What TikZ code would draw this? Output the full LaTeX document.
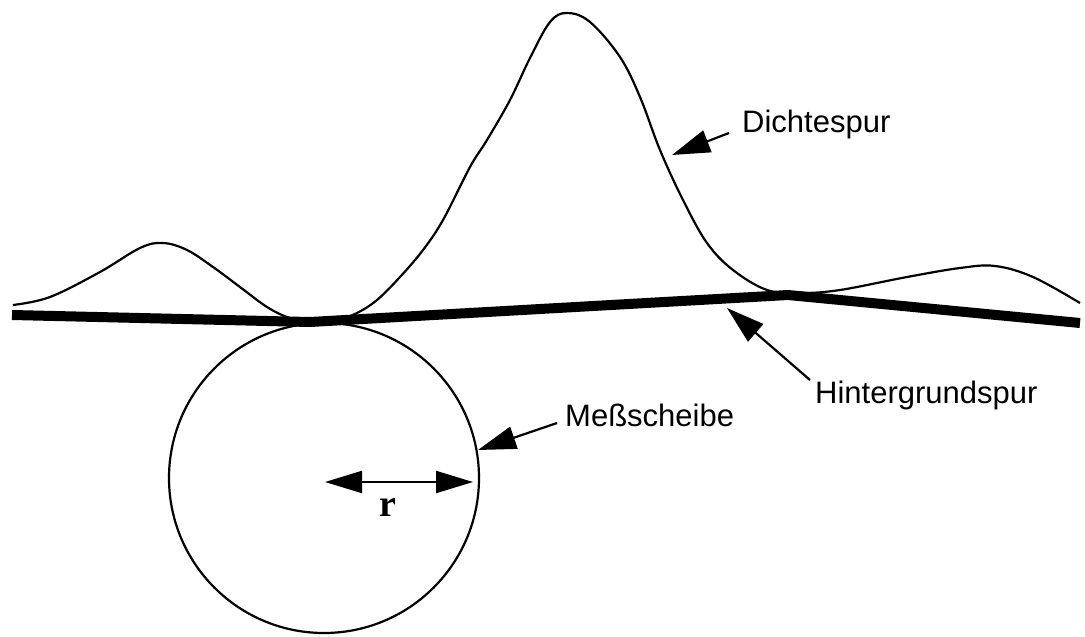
\documentclass[tikz,border=0pt]{standalone}
\usepackage{fontspec}
\setmainfont{Liberation Sans}
\newfontfamily\serifr{Liberation Serif}
\usetikzlibrary{arrows.meta}
\begin{document}
\begin{tikzpicture}[x=1pt,y=-1pt,
  thin line/.style={line width=2.2pt},
  arr/.style={line width=2.2pt,-{Triangle[length=38pt,width=23pt]}},
  dbl/.style={line width=2.2pt,{Triangle[length=37pt,width=22pt]}-{Triangle[length=37pt,width=22pt]}},
  lbl/.style={font=\fontsize{31}{37}\selectfont,inner sep=0pt,anchor=west}]
\useasboundingbox (0,0) rectangle (1085,637);
% density trace
\draw[thin line] plot[smooth,tension=0.6] coordinates {
 (13,305) (50,297) (100,272) (140,248) (163,243) (187,250) (213,267) (240,287)
 (267,307) (290,318) (315,322) (340,319) (357,313) (377,300) (400,277) (423,250)
 (443,220) (470,167) (487,140) (510,100) (530,58) (550,22) (567,13)
 (590,22) (620,57) (640,97) (660,150) (683,200) (707,243) (733,270)
 (767,290) (800,293) (840,290) (907,277) (960,268) (995,266) (1033,277) (1080,303)};
% background trace
\draw[line width=10pt] (12,315) -- (310,322) -- (788,295) -- (1080,323);
% measuring disc
\node[draw,thin line,circle,minimum size=310pt,inner sep=0pt] (disc) at (324,478) {};
% labels
\node[lbl] (dl) at (742,124) {Dichtespur};
\node[lbl] (hl) at (815,395) {Hintergrundspur};
\node[lbl] (ml) at (565,415) {Meßscheibe};
\coordinate (dtip) at (672,155);
\coordinate (htip) at (727,308);
\coordinate (mtip) at (478,450);
\draw[arr] ([shift={(-13,9)}]dl.west) -- (dtip);
\draw[arr] ([shift={(-5,-15)}]hl.west) -- (htip);
\draw[arr] ([shift={(-8,8)}]ml.west) -- (mtip);
% radius
\coordinate (rc) at (325,482);
\coordinate (rr) at (473,482);
\draw[dbl] (rc) -- (rr);
\node[font=\serifr\bfseries\fontsize{38}{44}\selectfont,inner sep=0pt] (rl) at (388,507) {r};
\end{tikzpicture}
\end{document}
